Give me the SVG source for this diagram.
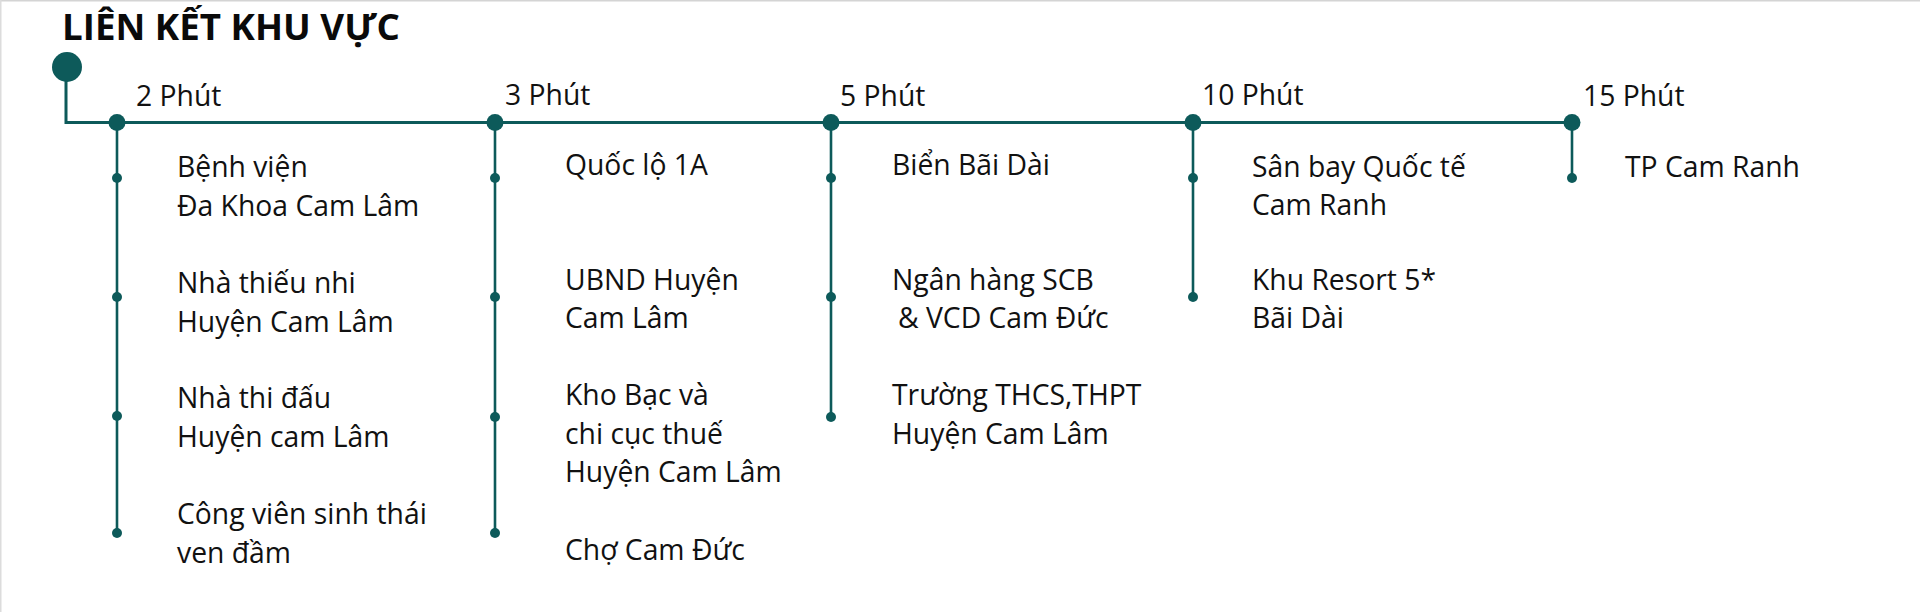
<svg xmlns="http://www.w3.org/2000/svg" width="1920" height="612" viewBox="0 0 1920 612">
<style>
.t{font-family:"Open Sans","Noto Sans","Liberation Sans",sans-serif;font-size:28.3px;fill:#111}
.h{font-family:"Open Sans","Noto Sans","Liberation Sans",sans-serif;font-size:28.3px;fill:#111}
.title{font-family:"Open Sans","Liberation Sans",sans-serif;font-weight:bold;font-size:36px;fill:#0a0a0a}
.ln{stroke:#0d5a5a;stroke-width:3;fill:none}
.vl{stroke:#0d5a5a;stroke-width:2.6;fill:none}
.nd{fill:#0d5a5a}
</style>
<rect width="1920" height="612" fill="#fff"/>
<line x1="0" y1="0.75" x2="1920" y2="0.75" stroke="#d4d4d4" stroke-width="1.5"/>
<line x1="0.75" y1="0" x2="0.75" y2="612" stroke="#dcdcdc" stroke-width="1.5"/>
<text id="title" class="title" x="62" y="39.5" textLength="338" lengthAdjust="spacingAndGlyphs">LIÊN KẾT KHU VỰC</text>
<g id="connectors">
<polyline class="ln" points="66,67 66,122.5 1572,122.5"/>
<line class="vl" x1="117" y1="122" x2="117" y2="533"/>
<line class="vl" x1="495" y1="122" x2="495" y2="533"/>
<line class="vl" x1="831" y1="122" x2="831" y2="417"/>
<line class="vl" x1="1193" y1="122" x2="1193" y2="297"/>
<line class="vl" x1="1572" y1="122" x2="1572" y2="178"/>
</g>
<g id="start"><circle class="nd" cx="67" cy="67" r="15"/></g>
<g id="node-2">
<circle class="nd" cx="117" cy="122.5" r="8.5"/>
<text class="h" x="136" y="106">2 Phút</text>
<circle class="nd" cx="117" cy="178" r="5"/>
<circle class="nd" cx="117" cy="297" r="5"/>
<circle class="nd" cx="117" cy="416" r="5"/>
<circle class="nd" cx="117" cy="533" r="5"/>
<text class="t" x="177" y="177">Bệnh viện</text>
<text class="t" x="177" y="216">Đa Khoa Cam Lâm</text>
<text class="t" x="177" y="293">Nhà thiếu nhi</text>
<text class="t" x="177" y="332">Huyện Cam Lâm</text>
<text class="t" x="177" y="408">Nhà thi đấu</text>
<text class="t" x="177" y="447">Huyện cam Lâm</text>
<text class="t" x="177" y="524">Công viên sinh thái</text>
<text class="t" x="177" y="563">ven đầm</text>
</g>
<g id="node-3">
<circle class="nd" cx="495" cy="122.5" r="8.5"/>
<text class="h" x="505" y="105">3 Phút</text>
<circle class="nd" cx="495" cy="178" r="5"/>
<circle class="nd" cx="495" cy="297" r="5"/>
<circle class="nd" cx="495" cy="417" r="5"/>
<circle class="nd" cx="495" cy="533" r="5"/>
<text class="t" x="565" y="175">Quốc lộ 1A</text>
<text class="t" x="565" y="290">UBND Huyện</text>
<text class="t" x="565" y="328">Cam Lâm</text>
<text class="t" x="565" y="405">Kho Bạc và</text>
<text class="t" x="565" y="444">chi cục thuế</text>
<text class="t" x="565" y="482">Huyện Cam Lâm</text>
<text class="t" x="565" y="560">Chợ Cam Đức</text>
</g>
<g id="node-5">
<circle class="nd" cx="831" cy="122.5" r="8.5"/>
<text class="h" x="840" y="106">5 Phút</text>
<circle class="nd" cx="831" cy="178" r="5"/>
<circle class="nd" cx="831" cy="297" r="5"/>
<circle class="nd" cx="831" cy="417" r="5"/>
<text class="t" x="892" y="175">Biển Bãi Dài</text>
<text class="t" x="892" y="290">Ngân hàng SCB</text>
<text class="t" x="898" y="328">&amp; VCD Cam Đức</text>
<text class="t" x="892" y="405">Trường THCS,THPT</text>
<text class="t" x="892" y="444">Huyện Cam Lâm</text>
</g>
<g id="node-10">
<circle class="nd" cx="1193" cy="122.5" r="8.5"/>
<text class="h" x="1202" y="105">10 Phút</text>
<circle class="nd" cx="1193" cy="178" r="5"/>
<circle class="nd" cx="1193" cy="297" r="5"/>
<text class="t" x="1252" y="177">Sân bay Quốc tế</text>
<text class="t" x="1252" y="215">Cam Ranh</text>
<text class="t" x="1252" y="290">Khu Resort 5*</text>
<text class="t" x="1252" y="328">Bãi Dài</text>
</g>
<g id="node-15">
<circle class="nd" cx="1572" cy="122.5" r="8.5"/>
<text class="h" x="1583" y="106">15 Phút</text>
<circle class="nd" cx="1572" cy="178" r="5"/>
<text class="t" x="1625" y="177">TP Cam Ranh</text>
</g>
</svg>
